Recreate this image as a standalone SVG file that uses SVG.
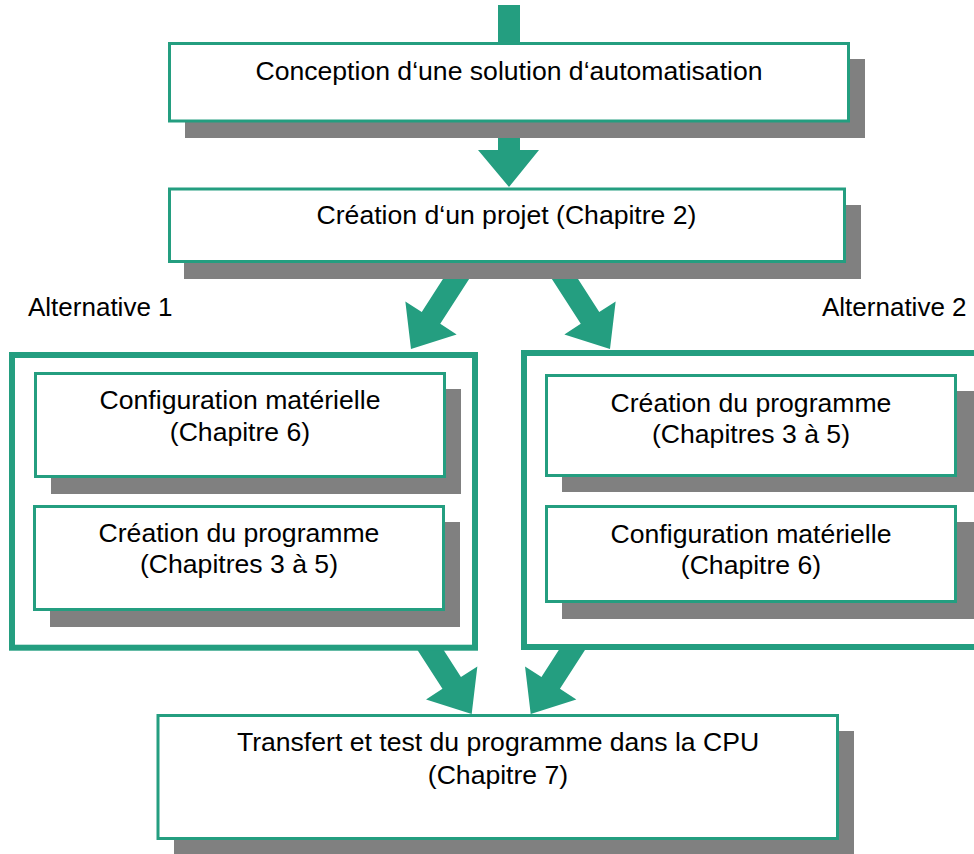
<svg xmlns="http://www.w3.org/2000/svg" width="974" height="854" viewBox="0 0 974 854">
<style>
.box{fill:#fff;stroke:#249E80;stroke-width:3}
.cont{fill:#fff;stroke:#249E80;stroke-width:6}
.shadow{fill:#808080}
.arrow{fill:#249E80}
text{font-family:"Liberation Sans",Arial,sans-serif;font-size:26.6px;fill:#000}
.lbl{font-size:26px}
.c{text-anchor:middle}
</style>
<rect width="974" height="854" fill="#fff"/>
<g id="connectors">
<rect class="arrow" x="498" y="5" width="22" height="40"/>
<polygon class="arrow" points="498,130 520,130 520,150 539,150 509,187 478,150 498,150"/>
<polygon class="arrow" points="453.85,262.05 421.75,311.95 405.35,301.4 411,349 456.65,334.4 440.25,323.85 472.35,273.95"/>
<polygon class="arrow" points="567.15,262.05 599.25,311.95 615.65,301.4 610,349 564.35,334.4 580.75,323.85 548.65,273.95"/>
<polygon class="arrow" points="432.05,632.05 460.95,676.95 477.35,666.4 471.7,714 426.05,699.4 442.45,688.85 413.55,643.95"/>
<polygon class="arrow" points="570.35,632.05 541.45,676.95 525.05,666.4 530.7,714 576.35,699.4 559.95,688.85 588.85,643.95"/>
</g>
<g id="conception">
<rect class="shadow" x="185" y="59" width="680" height="79"/>
<rect class="box" x="169.5" y="43.5" width="679" height="77.5"/>
<text class="c" x="509" y="80">Conception d‘une solution d‘automatisation</text>
</g>
<g id="projet">
<rect class="shadow" x="184" y="205" width="677" height="74"/>
<rect class="box" x="169.5" y="189" width="675" height="72.5"/>
<text class="c" x="506.5" y="224">Création d‘un projet (Chapitre 2)</text>
</g>
<g id="alternative1">
<text class="lbl" x="28" y="316">Alternative 1</text>
<rect class="cont" x="12" y="355" width="463" height="292.7"/>
</g>
<g id="alt1-config">
<rect class="shadow" x="51" y="389" width="410" height="105"/>
<rect class="box" x="35.5" y="373.5" width="409" height="103"/>
<text class="c" x="240" y="409">Configuration matérielle</text>
<text class="c" x="240" y="441">(Chapitre 6)</text>
</g>
<g id="alt1-programme">
<rect class="shadow" x="50" y="522" width="410" height="105"/>
<rect class="box" x="34.5" y="506.5" width="409" height="103"/>
<text class="c" x="239" y="542">Création du programme</text>
<text class="c" x="239" y="573">(Chapitres 3 à 5)</text>
</g>
<g id="alternative2">
<text class="lbl" x="822" y="316">Alternative 2</text>
<rect class="cont" x="524" y="353" width="470" height="294"/>
</g>
<g id="alt2-programme">
<rect class="shadow" x="562" y="391" width="420" height="101"/>
<rect class="box" x="546.5" y="375.5" width="409" height="100"/>
<text class="c" x="751" y="412">Création du programme</text>
<text class="c" x="751" y="443">(Chapitres 3 à 5)</text>
</g>
<g id="alt2-config">
<rect class="shadow" x="562" y="522" width="420" height="97"/>
<rect class="box" x="546.5" y="506.5" width="409" height="95"/>
<text class="c" x="751" y="543">Configuration matérielle</text>
<text class="c" x="751" y="574">(Chapitre 6)</text>
</g>
<g id="transfert">
<rect class="shadow" x="174" y="731" width="680" height="130"/>
<rect class="box" x="158" y="715.5" width="679.5" height="123"/>
<text class="c" x="498" y="751">Transfert et test du programme dans la CPU</text>
<text class="c" x="498" y="784">(Chapitre 7)</text>
</g>
</svg>
